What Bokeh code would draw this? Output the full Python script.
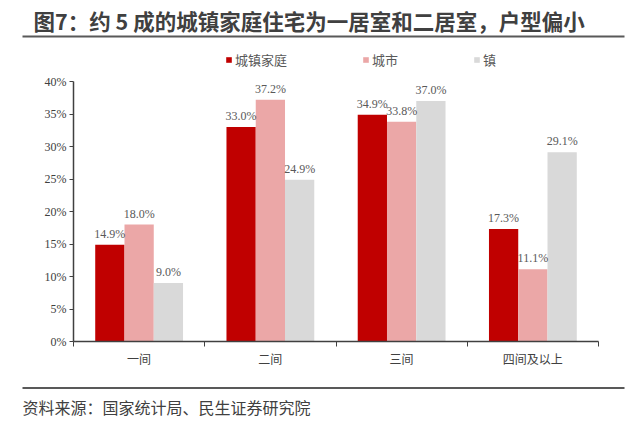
from bokeh.plotting import figure
from bokeh.layouts import column
from bokeh.models import (Range1d, FixedTicker, PrintfTickFormatter,
                          Legend, LegendItem, LabelSet, ColumnDataSource)
from bokeh.core.properties import value
from bokeh.embed import file_html
from bokeh.resources import INLINE

categories = ["一间", "二间", "三间", "四间及以上"]
series_names = ["城镇家庭", "城市", "镇"]
urban_household = [14.9, 33.0, 34.9, 17.3]
city = [18.0, 37.2, 33.8, 11.1]
town = [9.0, 24.9, 37.0, 29.1]
y_ticks = [0, 5, 10, 15, 20, 25, 30, 35, 40]
title_text = "图7：约 5 成的城镇家庭住宅为一居室和二居室，户型偏小"
source_text = "资料来源：国家统计局、民生证券研究院"

colors = ["#C00000", "#EBA7A7", "#D9D9D9"]
W = 632
H_TOP, H_MAIN, H_BOT = 73, 300, 44
RULE_COLOR = "#595959"


def blank(h):
    f = figure(width=W, height=h, output_backend="svg", toolbar_location=None,
               x_range=Range1d(0, W), y_range=Range1d(h, 0),
               x_axis_type=None, y_axis_type=None, min_border=0)
    f.frame_align = False
    f.outline_line_color = None
    f.xgrid.visible = False
    f.ygrid.visible = False
    return f


# ---- header: title, rule, legend
top = blank(H_TOP)
top.text(x=[33], y=[20], text=[title_text], text_font=value("Noto Sans CJK SC"),
         text_font_style="bold", text_font_size="21.5px", text_color="#404040",
         text_baseline="middle")
top.segment(x0=[22], y0=[36], x1=[624], y1=[36], line_width=2, line_color=RULE_COLOR)
legend_renderers = [top.vbar(x=[0], top=[0], bottom=[0], width=0, fill_color=c, line_color=None)
                    for c in colors]
legend = Legend(items=[LegendItem(label=n, renderers=[r]) for n, r in zip(series_names, legend_renderers)],
                orientation="horizontal", location=(225, 4),
                glyph_width=7, glyph_height=7, label_standoff=3, spacing=75,
                padding=0, margin=0, border_line_color=None, background_fill_alpha=0,
                label_text_font="Noto Sans CJK SC", label_text_font_size="13px",
                label_text_color="#595959", label_height=12)
top.add_layout(legend, "center")

# ---- main chart
p = figure(width=W, height=H_MAIN, output_backend="svg", toolbar_location=None,
           x_range=Range1d(0, len(categories)), y_range=Range1d(0, 40),
           min_border_left=73, min_border_right=34, min_border_top=8, min_border_bottom=32)
p.outline_line_color = None
p.xgrid.visible = False
p.ygrid.visible = False

bar_w = 0.223
offsets = [-bar_w, 0, bar_w]
for vals, off, col in zip([urban_household, city, town], offsets, colors):
    xs = [i + 0.5 + off for i in range(len(categories))]
    src = ColumnDataSource(dict(x=xs, top=vals, lbl=["%.1f%%" % v for v in vals]))
    p.vbar(x="x", top="top", width=bar_w, source=src, fill_color=col, line_color=None)
    p.add_layout(LabelSet(x="x", y="top", text="lbl", source=src, y_offset=4,
                          text_align="center", text_baseline="bottom",
                          text_font="Liberation Serif", text_font_size="12px",
                          text_color="#595959"))

xa = p.xaxis[0]
xa.ticker = FixedTicker(ticks=[i + 0.5 for i in range(len(categories))],
                        minor_ticks=list(range(len(categories) + 1)))
xa.major_label_overrides = {i + 0.5: c for i, c in enumerate(categories)}
xa.major_tick_line_color = None
xa.major_tick_out = 0
xa.major_tick_in = 0
xa.minor_tick_out = 5
xa.minor_tick_in = 0
xa.minor_tick_line_color = "#404040"
xa.axis_line_color = "#404040"
xa.axis_line_width = 1.5
xa.major_label_text_font = "Noto Sans CJK SC"
xa.major_label_text_font_size = "12px"
xa.major_label_text_color = "#404040"
xa.major_label_standoff = 3

ya = p.yaxis[0]
ya.ticker = FixedTicker(ticks=y_ticks)
ya.formatter = PrintfTickFormatter(format="%d%%")
ya.axis_line_color = "#404040"
ya.axis_line_width = 1.5
ya.major_tick_out = 4
ya.major_tick_in = 0
ya.minor_tick_line_color = None
ya.major_tick_line_color = "#404040"
ya.major_label_text_font = "Liberation Serif"
ya.major_label_text_font_size = "12px"
ya.major_label_text_color = "#404040"
ya.major_label_standoff = 3

# ---- footer: rule and source
bot = blank(H_BOT)
bot.segment(x0=[22], y0=[14.5], x1=[624], y1=[14.5], line_width=2, line_color=RULE_COLOR)
bot.text(x=[22], y=[33], text=[source_text], text_font=value("Noto Sans CJK SC"),
         text_font_size="16px", text_color="#404040", text_baseline="middle")

layout = column(top, p, bot, spacing=0)
open("out.html", "w").write(file_html(layout, INLINE))
